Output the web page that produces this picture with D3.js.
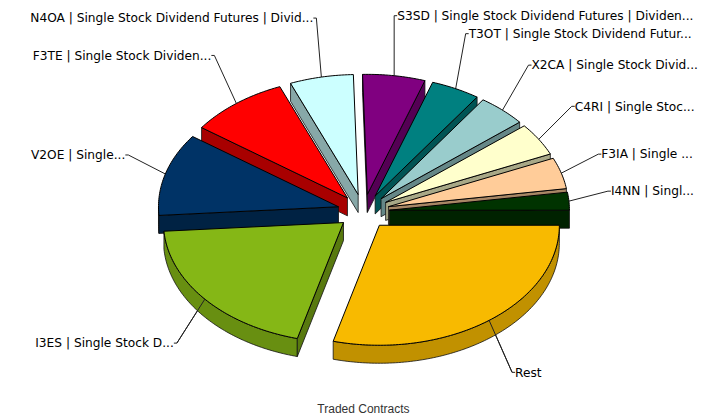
<!DOCTYPE html>
<html><head><meta charset="utf-8">
<script src="https://cdn.jsdelivr.net/npm/d3@7"></script>
<style>html,body{margin:0;padding:0;background:#fff}svg{display:block}</style>
</head><body><svg id="c" width="718" height="419"></svg>
<script>
const categories = ["Rest","I3ES | Single Stock D...","V2OE | Single...","F3TE | Single Stock Dividen...","N4OA | Single Stock Dividend Futures | Divid...","S3SD | Single Stock Dividend Futures | Dividen...","T3OT | Single Stock Dividend Futur...","X2CA | Single Stock Divid...","C4RI | Single Stoc...","F3IA | Single ...","I4NN | Singl..."];
const values = [29.1,19.7,11.1,8.9,5.7,5.6,4.4,4.4,4.4,4.2,2.4];
const colors = ["#F8BA00","#85B716","#003366","#FF0000","#CCFFFF","#800080","#008080","#99CCCC","#FFFFCC","#FFCC99","#003300"];
const title = "Traded Contracts";
const leaderDx = [23,-28,-37,-22,-5,0,10,26,33,37,39];
const leaderDy = [52,44,-19,-48,-59,-60,-55,-45,-33,-19,-10];

const cx=363.5, cy=211.5, rx=180, ry=120, explode=26, depth=18;
const sx=d3.scaleLinear().domain([-1,1]).range([-rx,rx]);
const sy=d3.scaleLinear().domain([-1,1]).range([-ry,ry]);
const svg=d3.select("#c");
const pie=d3.pie().sort(null).value(d=>d).startAngle(Math.PI/2).endAngle(Math.PI/2+2*Math.PI);
const arcs=pie(values).map((d,i)=>{
  const mid=(d.startAngle+d.endAngle)/2;
  return {...d,i,mid,ax:cx+sx(Math.sin(mid))*explode/rx,ay:cy+sy(-Math.cos(mid))*explode/rx};
});
const pt=(d,a,dz=0)=>[d.ax+sx(Math.sin(a)),d.ay+sy(-Math.cos(a))+dz];
const sample=(d,a0,a1,dz=0)=>{const n=Math.max(2,Math.ceil(Math.abs(a1-a0)*60));return d3.range(n+1).map(k=>pt(d,a0+(a1-a0)*k/n,dz));};
const line=d3.line();
const closed=p=>line(p)+"Z";
const shade=(c,f)=>{const r=d3.rgb(c);return d3.rgb(r.r*f,r.g*f,r.b*f).formatHex();};
const order=arcs.slice().sort((a,b)=>(-Math.cos(a.mid))-(-Math.cos(b.mid)));

const g=svg.append("g");
arcs.forEach(d=>{
  const [x,y]=pt(d,d.mid);
  const ex=x+leaderDx[d.i], ey=y+leaderDy[d.i], left=leaderDx[d.i]<0;
  g.append("path").attr("d",line([[x,y],[ex,ey],[ex+(left?-3:3),ey]])).attr("fill","none").attr("stroke","#222").attr("stroke-width",1);
  d.ex=ex;d.ey=ey;d.left=left;
});
order.forEach(d=>{
  const edge=a=>{const p=pt(d,a),q=pt(d,a,depth);return closed([[d.ax,d.ay],p,q,[d.ax,d.ay+depth]]);};
  const s=g.append("g");
  const wall=(path,f)=>s.append("path").attr("d",path).attr("fill",shade(colors[d.i],f)).attr("stroke","#111").attr("stroke-width",.8).attr("stroke-linejoin","round");
  const lo=d.startAngle, hi=Math.min(d.endAngle,3*Math.PI/2);
  if(lo<Math.PI*1.5 && hi>lo){
    wall(closed(sample(d,lo,hi).concat(sample(d,hi,lo,depth))),.78);
  }
  // a radial wall is drawn only when it faces the viewer
  if(Math.sin(d.endAngle)>0) wall(edge(d.endAngle),.66);
  if(Math.sin(d.startAngle)<0) wall(edge(d.startAngle),.66);
  s.append("path").attr("d",closed([[d.ax,d.ay]].concat(sample(d,d.startAngle,d.endAngle))))
    .attr("fill",colors[d.i]).attr("stroke","#000").attr("stroke-width",1).attr("stroke-linejoin","round");
});
arcs.filter(d=>d.i<2).forEach(d=>{
  const [x,y]=pt(d,d.mid);
  g.append("path").attr("d",line([[x,y],[d.ex,d.ey]])).attr("fill","none").attr("stroke","#222").attr("stroke-width",1);
});
arcs.forEach(d=>{
  g.append("text").attr("x",d.ex+(d.left?-3:3)).attr("y",d.ey).attr("dy","0.35em")
   .attr("text-anchor",d.left?"end":"start")
   .attr("font-family","'DejaVu Sans',Verdana,sans-serif").attr("font-size",12.2).attr("fill","#000")
   .text(categories[d.i]);
});
svg.append("text").attr("x",cx).attr("y",413).attr("text-anchor","middle")
  .attr("font-family","'Liberation Sans',Arial,sans-serif").attr("font-size",12).attr("fill","#333").text(title);
</script></body></html>
